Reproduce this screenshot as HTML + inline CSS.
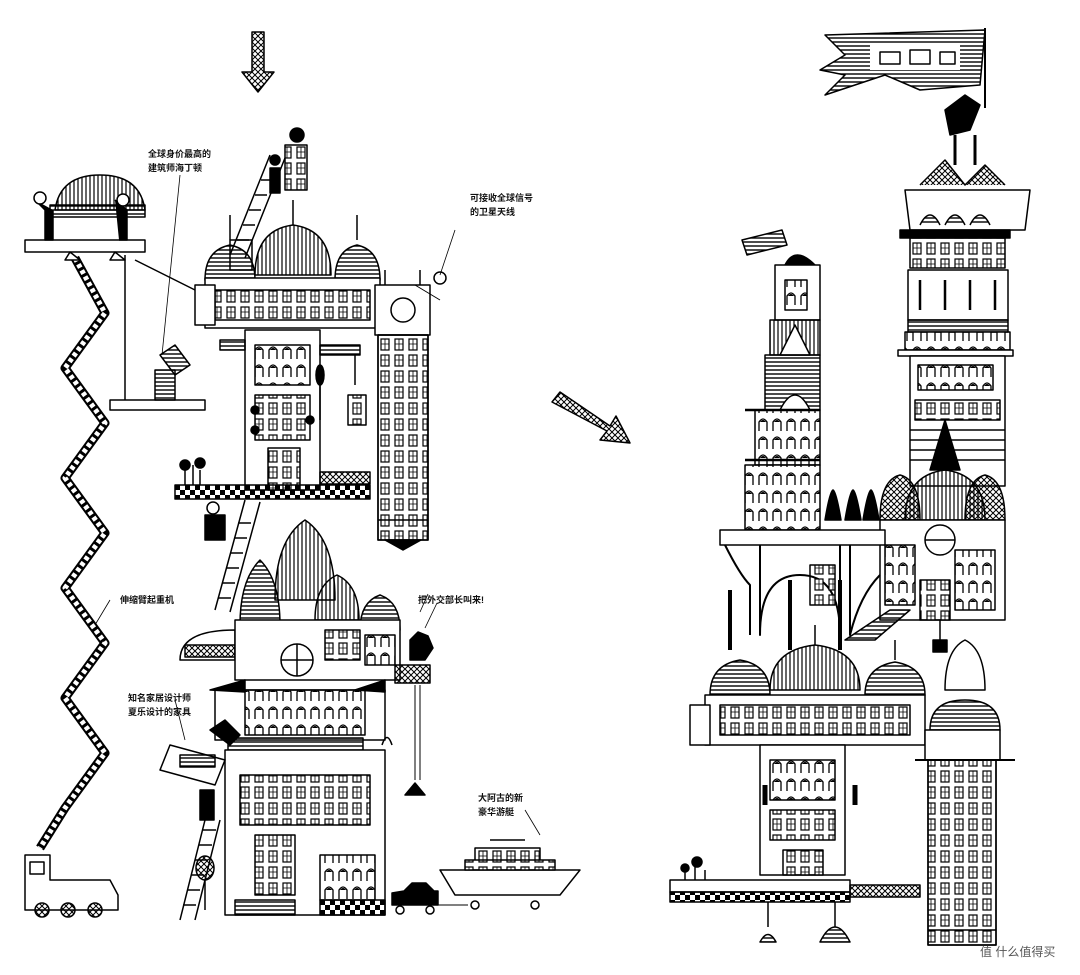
<!DOCTYPE html>
<html><head><meta charset="utf-8"><style>
html,body{margin:0;padding:0;background:#fff;}
svg{display:block}
text{font-family:"Liberation Sans","Noto Sans CJK SC",sans-serif;font-size:9px;fill:#111;font-weight:bold}
</style></head><body>
<svg width="1080" height="975" viewBox="0 0 1080 975" xmlns="http://www.w3.org/2000/svg">
<defs>
<pattern id="h" width="4" height="4" patternUnits="userSpaceOnUse"><path d="M0 2H4" stroke="#000" stroke-width="1.4"/></pattern>
<pattern id="v" width="4" height="4" patternUnits="userSpaceOnUse"><path d="M2 0V4" stroke="#000" stroke-width="1.2"/></pattern>
<pattern id="x" width="6" height="6" patternUnits="userSpaceOnUse"><path d="M0 0L6 6M6 0L0 6" stroke="#000" stroke-width="1"/></pattern>
<pattern id="w" width="14" height="16" patternUnits="userSpaceOnUse"><rect x="3" y="3" width="8" height="11" fill="#fff" stroke="#000" stroke-width="1.2"/><path d="M7 3V14M3 8H11" stroke="#000" stroke-width=".8"/></pattern>
<pattern id="a" width="14" height="18" patternUnits="userSpaceOnUse"><path d="M3 17V8Q7 2 11 8V17" fill="#fff" stroke="#000" stroke-width="1.3"/><path d="M4 8Q7 4 10 8Z" fill="#000"/></pattern>
<pattern id="ck" width="10" height="10" patternUnits="userSpaceOnUse"><rect width="5" height="5" fill="#000"/><rect x="5" y="5" width="5" height="5" fill="#000"/></pattern>
</defs>
<g stroke="#000" stroke-width="1.5" fill="#fff" stroke-linejoin="round">
<!-- arrows -->
<path d="M252 32h12v40h10l-16 20l-16-20h10z" fill="url(#x)"/>
<path d="M552 402l8-10l50 34l6-10l14 27l-30-3l7-9z" fill="url(#x)"/>

<!-- crane zigzag -->
<path d="M75 258l30 55-40 55 40 55-40 55 40 55-40 55 40 55-40 55 40 55-40 55-25 40" fill="none" stroke-width="9"/>
<path d="M75 258l30 55-40 55 40 55-40 55 40 55-40 55 40 55-40 55 40 55-40 55-25 40" fill="none" stroke="#fff" stroke-width="5" stroke-dasharray="4 3"/>
<rect x="25" y="240" width="120" height="12"/>
<path d="M70 252l10 8h-15zM115 252l10 8h-15z"/>
<!-- sofa -->
<path d="M55 210q5-35 45-35q40 0 45 35z" fill="url(#v)"/>
<rect x="50" y="205" width="95" height="12" fill="url(#h)"/>
<path d="M35 200l10 10v30h8v-30M115 200l12 10v30h-8" fill="#000"/>
<circle cx="40" cy="198" r="6"/><circle cx="123" cy="200" r="6"/>
<!-- swing -->
<path d="M125 255V400M135 260L195 290" fill="none"/>
<rect x="110" y="400" width="95" height="10"/>
<path d="M160 355l15-10 15 20-15 10z" fill="url(#h)"/><path d="M155 370h20v30h-20z" fill="url(#h)"/>
<!-- truck -->
<path d="M25 855h25v25h60l8 15v15H25z"/>
<rect x="30" y="862" width="14" height="12"/>
<circle cx="42" cy="910" r="7" fill="url(#x)"/><circle cx="68" cy="910" r="7" fill="url(#x)"/><circle cx="95" cy="910" r="7" fill="url(#x)"/>

<!-- upper left building -->
<path d="M230 240h22v30h-22z" fill="none"/>
<path d="M205 280q0-30 25-35q25 5 25 35z" fill="url(#h)"/>
<path d="M335 280q0-30 22-35q23 5 23 35z" fill="url(#h)"/>
<path d="M255 275q0-45 38-50q38 5 38 50z" fill="url(#v)"/>
<path d="M230 215v25M357 215v25M293 200v25" fill="none"/>
<rect x="205" y="278" width="175" height="50"/>
<rect x="215" y="290" width="155" height="30" fill="url(#w)"/>
<rect x="195" y="285" width="20" height="40"/>
<rect x="245" y="330" width="75" height="160"/>
<rect x="255" y="345" width="55" height="40" fill="url(#a)"/>
<rect x="255" y="395" width="55" height="45" fill="url(#w)"/>
<rect x="268" y="448" width="32" height="42" fill="url(#w)"/>
<circle cx="255" cy="410" r="4" fill="#000"/><circle cx="255" cy="430" r="4" fill="#000"/><circle cx="310" cy="420" r="4" fill="#000"/>
<path d="M220 350h25v-10h-25zM320 345h40v10h-40z" fill="url(#h)"/>
<!-- ladder -->
<path d="M230 255l40-100M245 258l40-100" fill="none"/>
<path d="M237 240h12M243 225h12M249 210h12M255 195h12M261 180h12" fill="none"/>
<rect x="285" y="145" width="22" height="45" fill="url(#w)"/>
<circle cx="297" cy="135" r="7" fill="#000"/><circle cx="275" cy="160" r="5" fill="#000"/>
<path d="M270 168h10v25h-10z" fill="#000"/>
<!-- clock tower -->
<rect x="375" y="285" width="55" height="50"/>
<circle cx="403" cy="310" r="12"/>
<path d="M385 285v-15M420 285v-15" fill="none"/>
<rect x="378" y="335" width="50" height="205" fill="url(#w)"/>
<rect x="378" y="335" width="50" height="205" fill="none"/>
<path d="M378 520h50" fill="none"/>
<path d="M385 540l18 10 18-10z" fill="#000"/>
<path d="M440 300l-25-15" fill="none" stroke-width="1"/>
<circle cx="440" cy="278" r="6"/>
<path d="M440 275l15-45" fill="none" stroke-width=".8"/>
<!-- platform -->
<rect x="175" y="485" width="195" height="14" fill="url(#ck)"/>
<rect x="320" y="472" width="50" height="12" fill="url(#x)"/>
<path d="M185 470v15M193 465v20M200 470v15" fill="none"/>
<circle cx="185" cy="465" r="5" fill="#000"/><circle cx="200" cy="463" r="5" fill="#000"/>
<path d="M320 380v40" fill="none"/><ellipse cx="320" cy="375" rx="4" ry="10" fill="#000"/>
<path d="M355 355v30" fill="none"/><rect x="348" y="395" width="18" height="30" fill="url(#w)"/>
<!-- middle ladder + man -->
<path d="M215 610l30-110M230 612l30-110" fill="none"/>
<path d="M218 598h13M222 583h13M226 568h13M230 553h13M234 538h13M238 523h13" fill="none"/>
<path d="M205 515h20v25h-20z" fill="#000"/><circle cx="213" cy="508" r="6"/>
<!-- lower domes building -->
<path d="M240 625q0-45 20-65q20 20 20 65z" fill="url(#h)"/>
<path d="M275 600q0-60 30-80q30 20 30 80z" fill="url(#v)"/>
<path d="M315 620q0-35 22-45q22 10 22 45z" fill="url(#v)"/>
<path d="M360 630q0-28 20-35q20 7 20 35z" fill="url(#h)"/>
<path d="M180 660q0-30 55-30v30z" fill="none"/>
<rect x="185" y="645" width="50" height="12" fill="url(#x)"/>
<rect x="235" y="620" width="165" height="60"/>
<circle cx="297" cy="660" r="16"/><path d="M281 660h32M297 644v32" fill="none"/>
<rect x="325" y="630" width="35" height="30" fill="url(#w)"/>
<rect x="365" y="635" width="30" height="30" fill="url(#a)"/>
<rect x="395" y="665" width="35" height="18" fill="url(#x)"/>
<path d="M410 640l8-8 10 4 5 12-8 12h-15z" fill="#000"/>
<path d="M415 685v95M420 685v95" fill="none" stroke-width="1"/>
<path d="M405 795l10-12 10 12z" fill="#000"/>
<path d="M425 628l12-25" fill="none" stroke-width=".8"/>
<!-- arches row -->
<path d="M215 690h170v50H215z"/>
<rect x="245" y="690" width="120" height="45" fill="url(#a)"/>
<path d="M210 690l35-10v12zM355 690l30-10v12z" fill="#000"/>
<rect x="228" y="738" width="135" height="14" fill="url(#h)"/>
<path d="M382 745q5-15 10 0" fill="none"/>
<!-- bottom building -->
<rect x="225" y="750" width="160" height="165"/>
<rect x="240" y="775" width="130" height="50" fill="url(#w)"/>
<rect x="255" y="835" width="40" height="60" fill="url(#w)"/>
<rect x="320" y="855" width="55" height="45" fill="url(#a)"/>
<rect x="320" y="900" width="65" height="15" fill="url(#ck)"/>
<rect x="235" y="900" width="60" height="15" fill="url(#h)"/>
<!-- furniture + ladder -->
<path d="M180 920l25-100M195 920l25-100" fill="none"/>
<path d="M183 905h13M187 890h13M191 875h13M195 860h13M199 845h13M203 830h13" fill="none"/>
<path d="M170 745l55 15-10 25-55-15z"/>
<rect x="180" y="755" width="35" height="12" fill="url(#h)"/>
<path d="M200 790h14v30h-14z" fill="#000"/>
<ellipse cx="205" cy="868" rx="9" ry="12" fill="url(#x)"/><path d="M205 880v30" fill="none"/>
<path d="M210 730l15-10 15 15-10 10z" fill="#000"/>
<!-- car -->
<path d="M392 905v-12l12-2 8-8h14l8 8h4v14z" fill="#000"/>
<circle cx="400" cy="910" r="4"/><circle cx="430" cy="910" r="4"/>
<path d="M438 905h30" fill="none" stroke-width="1"/>
<!-- yacht -->
<path d="M440 870h140l-20 25H455z"/>
<path d="M465 860h90v10h-90zM475 848h65v12h-65z" fill="url(#w)"/>
<path d="M490 840h35" fill="none"/>
<circle cx="475" cy="905" r="4"/><circle cx="535" cy="905" r="4"/>
<path d="M540 835l-15-25" fill="none" stroke-width=".8"/>

<!-- label lines -->
<path d="M180 175l-18 180M420 612l8-18M110 600l-15 25M175 700l10 40" fill="none" stroke-width=".8"/>

<!-- RIGHT SIDE -->
<!-- flag -->
<path d="M825 35l160-5-5 55-60 5-35-15-60 20 20-20-25-5 25-15z" fill="url(#h)"/>
<path d="M870 45h90v25h-90z" fill="#fff" stroke="none"/>
<path d="M880 52h20v12h-20zM910 50h20v14h-20zM940 52h15v12h-15z" fill="none"/>
<path d="M985 28v80" fill="none" stroke-width="2"/>
<path d="M945 110l20-15 15 10-10 25-20 5z" fill="#000"/>
<path d="M955 135v30M975 135v30" fill="none" stroke-width="3"/>
<!-- tall tower right -->
<path d="M920 185l25-25 20 25 20-20 20 20" fill="url(#x)"/>
<path d="M905 190h125l-5 40H910z"/>
<path d="M920 225q10-20 20 0M945 225q10-20 20 0M970 225q10-20 20 0" fill="url(#h)"/>
<rect x="900" y="230" width="110" height="8" fill="#000"/>
<rect x="910" y="238" width="95" height="30" fill="url(#w)"/>
<rect x="908" y="270" width="100" height="50"/>
<path d="M920 280v30M945 280v30M970 280v30M995 280v30" fill="none" stroke-width="2.5"/>
<rect x="908" y="320" width="100" height="12" fill="url(#h)"/>
<rect x="905" y="332" width="105" height="18" fill="url(#a)"/>
<rect x="898" y="350" width="115" height="6"/>
<rect x="910" y="356" width="95" height="130"/>
<rect x="918" y="365" width="75" height="25" fill="url(#a)"/>
<rect x="915" y="400" width="85" height="20" fill="url(#w)"/>
<path d="M910 430h95M910 440h95M910 450h95M910 460h95" fill="none"/>
<path d="M930 470l15-50 15 50z" fill="#000"/>
<!-- onion domes -->
<path d="M880 520q0-40 20-45q20 5 20 45z" fill="url(#x)"/>
<path d="M965 520q0-40 20-45q20 5 20 45z" fill="url(#x)"/>
<path d="M905 520q0-45 40-50q40 5 40 50z" fill="url(#v)"/>
<rect x="880" y="520" width="125" height="100"/>
<circle cx="940" cy="540" r="15"/><path d="M925 540h30" fill="none"/>
<rect x="885" y="545" width="30" height="60" fill="url(#a)"/>
<rect x="955" y="550" width="40" height="60" fill="url(#a)"/>
<rect x="920" y="580" width="30" height="40" fill="url(#w)"/>
<path d="M940 620v20" fill="none"/><path d="M933 640h14v12h-14z" fill="#000"/>
<!-- left tower right side -->
<path d="M742 240l40-10 5 15-40 10z" fill="url(#h)"/>
<path d="M785 265q10-20 30 0z" fill="#000"/>
<rect x="775" y="265" width="45" height="55"/>
<rect x="785" y="280" width="22" height="30" fill="url(#a)"/>
<rect x="770" y="320" width="50" height="35" fill="url(#v)"/>
<path d="M780 355l15-30 15 30z" fill="#fff"/>
<rect x="765" y="355" width="55" height="55" fill="url(#h)"/>
<path d="M780 410q15-30 30 0" fill="#fff"/>
<rect x="755" y="410" width="65" height="55" fill="url(#a)"/>
<rect x="745" y="465" width="75" height="65" fill="url(#a)"/>
<path d="M745 460h75M745 410h75" fill="none" stroke-width="2.5"/>
<!-- trees -->
<path d="M825 520q5-30 8-30q3 0 8 30zM845 520q5-30 8-30q3 0 8 30zM863 520q5-30 8-30q3 0 8 30z" fill="#000"/>
<!-- arcade -->
<path d="M720 530h165v15H720z"/>
<path d="M725 545q15 30 25 40v50M760 545v90q0-60 40-60q40 0 40 60v-90M850 545v90q10-40 30-60" fill="none" stroke-width="2"/>
<path d="M730 590v60M790 580v70M840 580v70" fill="none" stroke-width="4"/>
<rect x="810" y="565" width="25" height="40" fill="url(#w)"/>
<path d="M845 640l45-30h20l-35 30z" fill="url(#h)"/>
<!-- lower building right -->
<path d="M710 695q0-30 30-35q30 5 30 35z" fill="url(#h)"/>
<path d="M770 690q0-40 45-45q45 5 45 45z" fill="url(#v)"/>
<path d="M865 695q0-28 30-33q30 5 30 33z" fill="url(#h)"/>
<path d="M815 645v-20M895 660v-20" fill="none"/>
<rect x="705" y="695" width="220" height="50"/>
<rect x="720" y="705" width="190" height="30" fill="url(#w)"/>
<rect x="690" y="705" width="20" height="40"/>
<rect x="760" y="745" width="85" height="130"/>
<rect x="770" y="760" width="65" height="40" fill="url(#a)"/>
<rect x="770" y="810" width="65" height="30" fill="url(#w)"/>
<rect x="783" y="850" width="40" height="25" fill="url(#w)"/>
<path d="M765 785v20M855 785v20" fill="none" stroke-width="5"/>
<rect x="670" y="880" width="180" height="12"/>
<rect x="670" y="892" width="180" height="10" fill="url(#ck)"/>
<rect x="850" y="885" width="70" height="12" fill="url(#x)"/>
<path d="M760 942q8-15 16 0zM820 942q15-30 30 0z" fill="url(#h)"/>
<path d="M768 902v25M835 902v25" fill="none"/>
<path d="M685 880v-10M695 880v-15M705 880v-10" fill="none"/>
<circle cx="685" cy="868" r="4" fill="#000"/><circle cx="697" cy="862" r="5" fill="#000"/>
<!-- right lower tower -->
<path d="M945 690q0-40 20-50q20 10 20 50z"/>
<path d="M930 730q0-30 35-30q35 0 35 30z" fill="url(#h)"/>
<rect x="925" y="730" width="75" height="30"/>
<rect x="928" y="760" width="68" height="185" fill="url(#w)"/>
<rect x="928" y="760" width="68" height="185" fill="none"/>
<path d="M928 930h68" fill="none"/>
<path d="M915 760h100" fill="none" stroke-width="2"/>
</g>
<!-- labels -->
<text x="148" y="157">全球身价最高的</text>
<text x="148" y="171">建筑师海丁顿</text>
<text x="470" y="201">可接收全球信号</text>
<text x="470" y="215">的卫星天线</text>
<text x="120" y="603">伸缩臂起重机</text>
<text x="418" y="603">把外交部长叫来!</text>
<text x="128" y="701">知名家居设计师</text>
<text x="128" y="715">夏乐设计的家具</text>
<text x="478" y="801">大阿古的新</text>
<text x="478" y="815">豪华游艇</text>
<text x="980" y="956" style="font-size:12px;font-weight:normal;fill:#555">值 什么值得买</text>
</svg>
</body></html>
